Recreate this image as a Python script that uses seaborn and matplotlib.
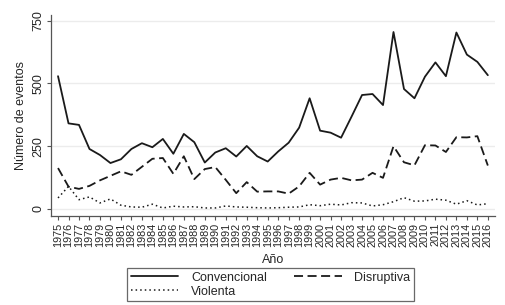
import pandas as pd
import seaborn as sns
import matplotlib.pyplot as plt

# Yearly counts of protest events by type
years = list(range(1975, 2017))
convencional = [529, 341, 335, 239, 215, 183, 198, 239, 262, 246, 279, 220, 299, 266, 185, 225,
                242, 209, 251, 210, 189, 229, 264, 324, 441, 312, 304, 284, 368, 454, 458, 414,
                705, 478, 441, 527, 584, 529, 703, 615, 586, 533]
disruptiva = [163, 89, 80, 92, 114, 132, 150, 136, 168, 200, 203, 140, 210, 119, 159, 167,
              116, 63, 107, 69, 70, 70, 61, 90, 144, 97, 117, 124, 114, 117, 144, 124,
              250, 186, 174, 254, 253, 227, 286, 285, 290, 173]
violenta = [44, 90, 37, 48, 24, 40, 15, 8, 7, 19, 4, 11, 8, 9, 4, 4,
            12, 8, 7, 5, 4, 5, 7, 8, 17, 13, 19, 16, 25, 24, 12, 17,
            29, 45, 31, 32, 39, 35, 19, 33, 16, 21]

df = pd.DataFrame({'Año': years, 'Convencional': convencional,
                   'Disruptiva': disruptiva, 'Violenta': violenta})

sns.set_style('white')
plt.rcParams['font.family'] = ['Liberation Sans', 'DejaVu Sans']

fig = plt.figure(figsize=(5.06, 3.05), dpi=100)
ax = fig.add_axes([0.1008, 0.2918, 0.8772, 0.6592])

col = '#1a1a1a'
sns.lineplot(data=df, x='Año', y='Convencional', ax=ax, color=col, lw=1.3,
             label='Convencional')
sns.lineplot(data=df, x='Año', y='Disruptiva', ax=ax, color=col, lw=1.3,
             label='Disruptiva', linestyle=(0, (5, 2.5)))
sns.lineplot(data=df, x='Año', y='Violenta', ax=ax, color=col, lw=1.1,
             label='Violenta', linestyle=(0, (1, 2)))

ax.set_xlim(1974.33, 2016.67)
ax.set_ylim(-28, 773)
ax.set_yticks([0, 250, 500, 750])
ax.set_xticks(years)
ax.set_xticklabels([str(y) for y in years], rotation=90, fontsize=7.8)
ax.set_yticklabels(['0', '250', '500', '750'], rotation=90, va='center', fontsize=9)
ax.yaxis.grid(True, color='#ececec', lw=1)
ax.tick_params(axis='both', direction='out', length=3, width=0.8, color='#555555',
               bottom=True, left=True, pad=2)
for s in ['top', 'right']:
    ax.spines[s].set_visible(False)
for s in ['left', 'bottom']:
    ax.spines[s].set_color('#555555')
    ax.spines[s].set_linewidth(0.9)

ax.set_xlabel('Año', fontsize=9, labelpad=5)
ax.set_ylabel('Número de eventos', fontsize=9, labelpad=4)

handles, labels = ax.get_legend_handles_labels()
ax.get_legend().remove()
# column-wise fill: Convencional / Violenta in col 1, Disruptiva in col 2
order = [0, 2, 1]
leg = fig.legend([handles[i] for i in order], [labels[i] for i in order],
                 loc='upper center', bbox_to_anchor=(0.535, 0.121),
                 ncol=2, fontsize=9, frameon=True, fancybox=False, handlelength=3.8,
                 borderpad=0.3, labelspacing=0.15, columnspacing=2.2, handletextpad=1.0,
                 borderaxespad=0)
leg.get_frame().set_edgecolor('#444444')
leg.get_frame().set_linewidth(0.9)

fig.savefig('out.png', dpi=100)
